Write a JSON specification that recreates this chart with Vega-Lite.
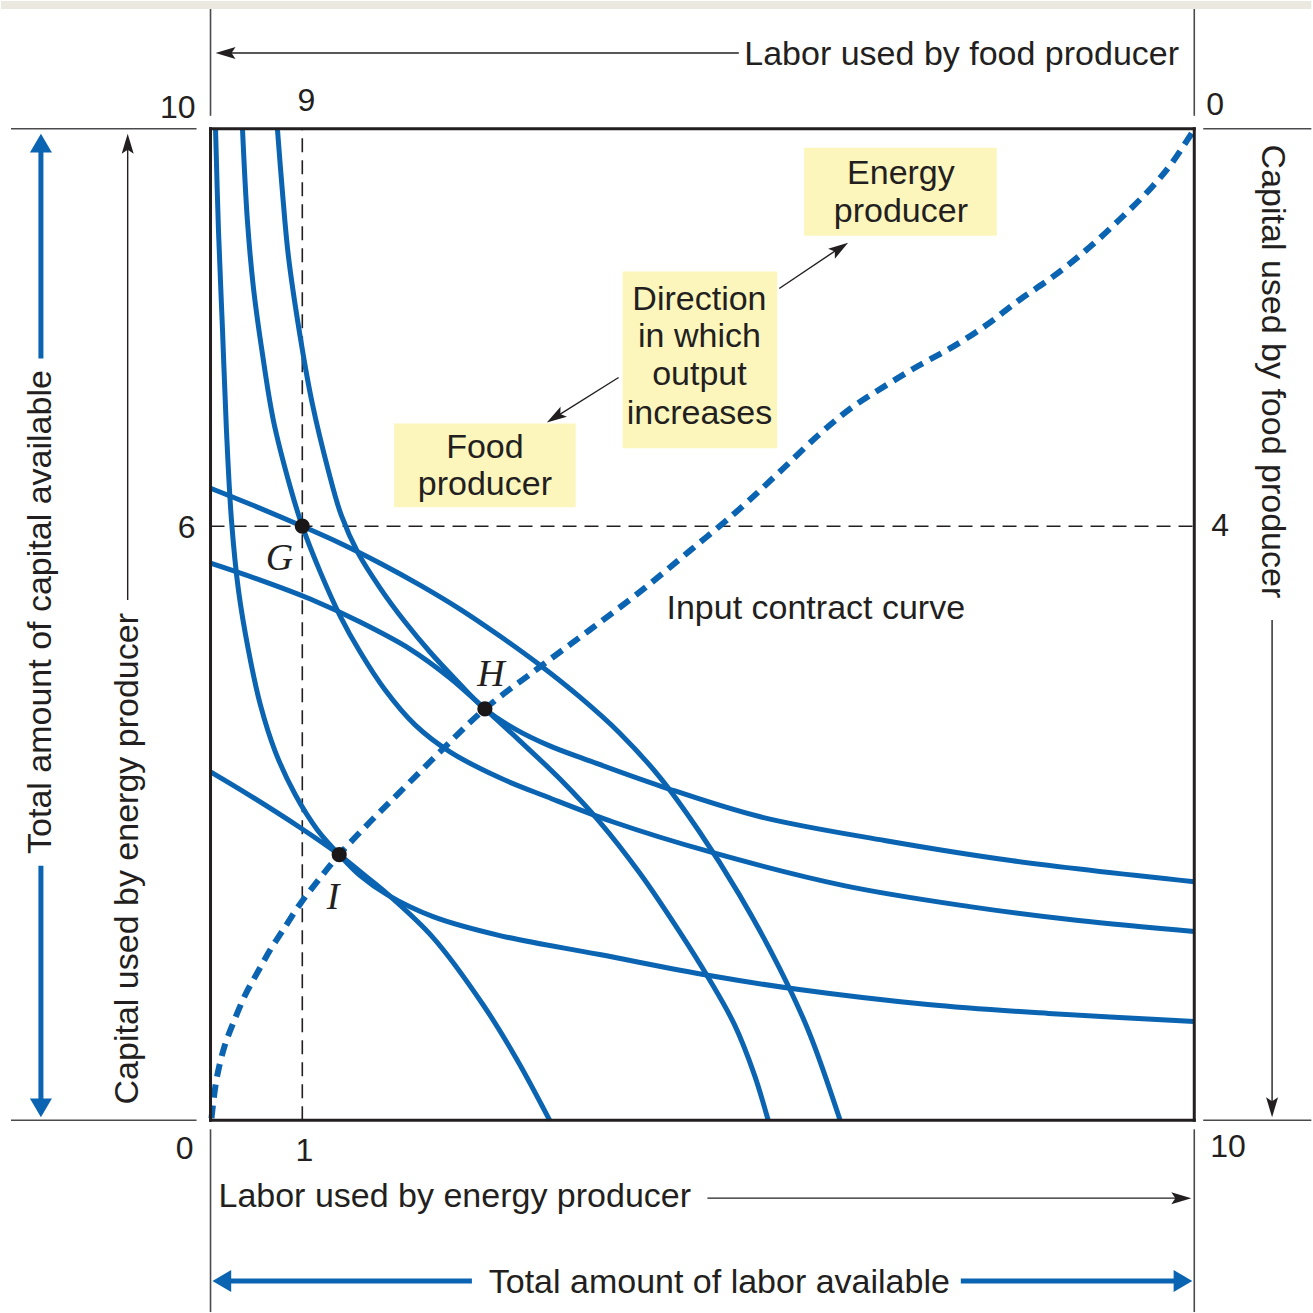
{
  "$schema": "https://vega.github.io/schema/vega-lite/v6.json",
  "width": 1313,
  "height": 1313,
  "autosize": {"type": "fit", "contains": "padding"},
  "padding": 0,
  "background": "white",
  "config": {"view": {"stroke": null}},
  "datasets": {
    "strip": [{"x": -2.13, "x2": 11.19, "y": 11.208, "y2": 11.29}],
    "boxes": [
      {"x": 6.034, "x2": 7.992, "y": 9.809, "y2": 8.922},
      {"x": 4.189, "x2": 5.761, "y": 8.56, "y2": 6.777},
      {"x": 1.866, "x2": 3.712, "y": 7.029, "y2": 6.183}
    ],
    "guides": [
      {"x": 0.933, "y": 0, "x2": 0.933, "y2": 10},
      {"x": 0, "y": 5.992, "x2": 10, "y2": 5.992}
    ],
    "iso": [
      {"c": "E1", "o": 1, "x": 0.051, "y": 10.0},
      {"c": "E1", "o": 2, "x": 0.081, "y": 8.973},
      {"c": "E1", "o": 3, "x": 0.122, "y": 7.966},
      {"c": "E1", "o": 4, "x": 0.162, "y": 6.959},
      {"c": "E1", "o": 5, "x": 0.213, "y": 6.052},
      {"c": "E1", "o": 6, "x": 0.284, "y": 5.347},
      {"c": "E1", "o": 7, "x": 0.385, "y": 4.743},
      {"c": "E1", "o": 8, "x": 0.507, "y": 4.189},
      {"c": "E1", "o": 9, "x": 0.659, "y": 3.716},
      {"c": "E1", "o": 10, "x": 0.862, "y": 3.283},
      {"c": "E1", "o": 11, "x": 1.085, "y": 2.931},
      {"c": "E1", "o": 12, "x": 1.308, "y": 2.679},
      {"c": "E1", "o": 13, "x": 1.521, "y": 2.467},
      {"c": "E1", "o": 14, "x": 1.795, "y": 2.276},
      {"c": "E1", "o": 15, "x": 2.262, "y": 2.054},
      {"c": "E1", "o": 16, "x": 2.941, "y": 1.863},
      {"c": "E1", "o": 17, "x": 3.955, "y": 1.672},
      {"c": "E1", "o": 18, "x": 5.071, "y": 1.46},
      {"c": "E1", "o": 19, "x": 5.984, "y": 1.319},
      {"c": "E1", "o": 20, "x": 7.292, "y": 1.168},
      {"c": "E1", "o": 21, "x": 8.519, "y": 1.078},
      {"c": "E1", "o": 22, "x": 10.0, "y": 0.997},
      {"c": "E2", "o": 1, "x": 0.325, "y": 10.0},
      {"c": "E2", "o": 2, "x": 0.375, "y": 9.074},
      {"c": "E2", "o": 3, "x": 0.436, "y": 8.399},
      {"c": "E2", "o": 4, "x": 0.527, "y": 7.734},
      {"c": "E2", "o": 5, "x": 0.639, "y": 7.059},
      {"c": "E2", "o": 6, "x": 0.811, "y": 6.385},
      {"c": "E2", "o": 7, "x": 0.933, "y": 5.992},
      {"c": "E2", "o": 8, "x": 1.116, "y": 5.529},
      {"c": "E2", "o": 9, "x": 1.318, "y": 5.086},
      {"c": "E2", "o": 10, "x": 1.521, "y": 4.723},
      {"c": "E2", "o": 11, "x": 1.775, "y": 4.34},
      {"c": "E2", "o": 12, "x": 2.079, "y": 3.988},
      {"c": "E2", "o": 13, "x": 2.434, "y": 3.716},
      {"c": "E2", "o": 14, "x": 2.941, "y": 3.454},
      {"c": "E2", "o": 15, "x": 3.418, "y": 3.263},
      {"c": "E2", "o": 16, "x": 4.087, "y": 3.011},
      {"c": "E2", "o": 17, "x": 5.071, "y": 2.709},
      {"c": "E2", "o": 18, "x": 6.44, "y": 2.367},
      {"c": "E2", "o": 19, "x": 7.718, "y": 2.155},
      {"c": "E2", "o": 20, "x": 8.824, "y": 2.014},
      {"c": "E2", "o": 21, "x": 10.0, "y": 1.903},
      {"c": "E3", "o": 1, "x": 0.68, "y": 10.0},
      {"c": "E3", "o": 2, "x": 0.73, "y": 9.376},
      {"c": "E3", "o": 3, "x": 0.791, "y": 8.721},
      {"c": "E3", "o": 4, "x": 0.913, "y": 7.895},
      {"c": "E3", "o": 5, "x": 1.034, "y": 7.231},
      {"c": "E3", "o": 6, "x": 1.197, "y": 6.556},
      {"c": "E3", "o": 7, "x": 1.329, "y": 6.103},
      {"c": "E3", "o": 8, "x": 1.501, "y": 5.72},
      {"c": "E3", "o": 9, "x": 1.724, "y": 5.368},
      {"c": "E3", "o": 10, "x": 1.978, "y": 5.025},
      {"c": "E3", "o": 11, "x": 2.231, "y": 4.723},
      {"c": "E3", "o": 12, "x": 2.505, "y": 4.431},
      {"c": "E3", "o": 13, "x": 2.789, "y": 4.149},
      {"c": "E3", "o": 14, "x": 3.093, "y": 3.948},
      {"c": "E3", "o": 15, "x": 3.448, "y": 3.776},
      {"c": "E3", "o": 16, "x": 3.854, "y": 3.625},
      {"c": "E3", "o": 17, "x": 4.594, "y": 3.364},
      {"c": "E3", "o": 18, "x": 5.588, "y": 3.061},
      {"c": "E3", "o": 19, "x": 6.866, "y": 2.82},
      {"c": "E3", "o": 20, "x": 8.154, "y": 2.618},
      {"c": "E3", "o": 21, "x": 10.0, "y": 2.407},
      {"c": "F1", "o": 1, "x": 0, "y": 3.515},
      {"c": "F1", "o": 2, "x": 0.406, "y": 3.273},
      {"c": "F1", "o": 3, "x": 0.913, "y": 2.951},
      {"c": "F1", "o": 4, "x": 1.308, "y": 2.679},
      {"c": "F1", "o": 5, "x": 1.572, "y": 2.467},
      {"c": "F1", "o": 6, "x": 1.795, "y": 2.286},
      {"c": "F1", "o": 7, "x": 2.262, "y": 1.843},
      {"c": "F1", "o": 8, "x": 2.769, "y": 1.168},
      {"c": "F1", "o": 9, "x": 3.114, "y": 0.614},
      {"c": "F1", "o": 10, "x": 3.448, "y": 0},
      {"c": "F2", "o": 1, "x": 0, "y": 5.619},
      {"c": "F2", "o": 2, "x": 0.507, "y": 5.448},
      {"c": "F2", "o": 3, "x": 1.014, "y": 5.257},
      {"c": "F2", "o": 4, "x": 1.521, "y": 5.025},
      {"c": "F2", "o": 5, "x": 2.028, "y": 4.753},
      {"c": "F2", "o": 6, "x": 2.434, "y": 4.461},
      {"c": "F2", "o": 7, "x": 2.789, "y": 4.149},
      {"c": "F2", "o": 8, "x": 3.144, "y": 3.827},
      {"c": "F2", "o": 9, "x": 3.55, "y": 3.444},
      {"c": "F2", "o": 10, "x": 3.955, "y": 3.011},
      {"c": "F2", "o": 11, "x": 4.361, "y": 2.497},
      {"c": "F2", "o": 12, "x": 4.767, "y": 1.903},
      {"c": "F2", "o": 13, "x": 5.071, "y": 1.42},
      {"c": "F2", "o": 14, "x": 5.325, "y": 0.967},
      {"c": "F2", "o": 15, "x": 5.527, "y": 0.463},
      {"c": "F2", "o": 16, "x": 5.669, "y": 0},
      {"c": "F3", "o": 1, "x": 0, "y": 6.375},
      {"c": "F3", "o": 2, "x": 0.406, "y": 6.213},
      {"c": "F3", "o": 3, "x": 0.933, "y": 5.992},
      {"c": "F3", "o": 4, "x": 1.318, "y": 5.821},
      {"c": "F3", "o": 5, "x": 1.724, "y": 5.619},
      {"c": "F3", "o": 6, "x": 2.13, "y": 5.398},
      {"c": "F3", "o": 7, "x": 2.535, "y": 5.156},
      {"c": "F3", "o": 8, "x": 2.941, "y": 4.884},
      {"c": "F3", "o": 9, "x": 3.347, "y": 4.592},
      {"c": "F3", "o": 10, "x": 3.753, "y": 4.27},
      {"c": "F3", "o": 11, "x": 4.158, "y": 3.907},
      {"c": "F3", "o": 12, "x": 4.564, "y": 3.464},
      {"c": "F3", "o": 13, "x": 4.97, "y": 2.91},
      {"c": "F3", "o": 14, "x": 5.375, "y": 2.276},
      {"c": "F3", "o": 15, "x": 5.781, "y": 1.541},
      {"c": "F3", "o": 16, "x": 6.085, "y": 0.886},
      {"c": "F3", "o": 17, "x": 6.4, "y": 0}
    ],
    "contract": [
      {"o": 1, "x": 0.01, "y": 0.02},
      {"o": 2, "x": 0.061, "y": 0.413},
      {"o": 3, "x": 0.142, "y": 0.745},
      {"o": 4, "x": 0.233, "y": 0.987},
      {"o": 5, "x": 0.355, "y": 1.269},
      {"o": 6, "x": 0.477, "y": 1.49},
      {"o": 7, "x": 0.609, "y": 1.722},
      {"o": 8, "x": 0.74, "y": 1.923},
      {"o": 9, "x": 0.913, "y": 2.185},
      {"o": 10, "x": 1.116, "y": 2.447},
      {"o": 11, "x": 1.308, "y": 2.679},
      {"o": 12, "x": 1.623, "y": 3.011},
      {"o": 13, "x": 1.927, "y": 3.313},
      {"o": 14, "x": 2.363, "y": 3.746},
      {"o": 15, "x": 2.789, "y": 4.149},
      {"o": 16, "x": 3.347, "y": 4.572},
      {"o": 17, "x": 3.854, "y": 4.945},
      {"o": 18, "x": 4.361, "y": 5.327},
      {"o": 19, "x": 4.868, "y": 5.74},
      {"o": 20, "x": 5.375, "y": 6.163},
      {"o": 21, "x": 5.781, "y": 6.536},
      {"o": 22, "x": 6.187, "y": 6.918},
      {"o": 23, "x": 6.521, "y": 7.19},
      {"o": 24, "x": 6.866, "y": 7.412},
      {"o": 25, "x": 7.201, "y": 7.613},
      {"o": 26, "x": 7.535, "y": 7.795},
      {"o": 27, "x": 7.88, "y": 8.016},
      {"o": 28, "x": 8.215, "y": 8.268},
      {"o": 29, "x": 8.55, "y": 8.499},
      {"o": 30, "x": 8.895, "y": 8.771},
      {"o": 31, "x": 9.229, "y": 9.074},
      {"o": 32, "x": 9.564, "y": 9.406},
      {"o": 33, "x": 9.767, "y": 9.648},
      {"o": 34, "x": 9.99, "y": 9.98}
    ],
    "frame": [
      {"x": 0, "y": 0, "x2": 10, "y2": 0},
      {"x": 0, "y": 10, "x2": 10, "y2": 10},
      {"x": 0, "y": 0, "x2": 0, "y2": 10},
      {"x": 10, "y": 0, "x2": 10, "y2": 10}
    ],
    "ext": [
      {"x": -2.028, "y": 10, "x2": -0.142, "y2": 10},
      {"x": -2.028, "y": 0, "x2": -0.142, "y2": 0},
      {"x": 10.091, "y": 10, "x2": 11.19, "y2": 10},
      {"x": 10.091, "y": 0, "x2": 11.19, "y2": 0},
      {"x": 0, "y": 11.208, "x2": 0, "y2": 10.131},
      {"x": 10, "y": 11.208, "x2": 10, "y2": 10.131},
      {"x": 0, "y": -0.091, "x2": 0, "y2": -1.934},
      {"x": 10, "y": -0.091, "x2": 10, "y2": -1.934}
    ],
    "shafts": [
      {"x": 5.37, "y": 10.765, "x2": 0.1, "y2": 10.765},
      {"x": 5.051, "y": -0.785, "x2": 9.92, "y2": -0.785},
      {"x": -0.842, "y": 5.247, "x2": -0.842, "y2": 9.9},
      {"x": 10.791, "y": 5.045, "x2": 10.791, "y2": 0.08},
      {"x": 5.781, "y": 8.389, "x2": 6.43, "y2": 8.822},
      {"x": 4.148, "y": 7.492, "x2": 3.47, "y2": 7.07}
    ],
    "heads": [
      {"x": 0.051, "y": 10.765, "a": 270},
      {"x": 9.97, "y": -0.785, "a": 90},
      {"x": -0.842, "y": 9.95, "a": 0},
      {"x": 10.791, "y": 0.03, "a": 180},
      {"x": 6.481, "y": 8.852, "a": 56},
      {"x": 3.418, "y": 7.039, "a": 238}
    ],
    "blueShafts": [
      {"x": -1.724, "y": 9.85, "x2": -1.724, "y2": 7.684},
      {"x": -1.724, "y": 2.568, "x2": -1.724, "y2": 0.13},
      {"x": 0.15, "y": -1.621, "x2": 2.657, "y2": -1.621},
      {"x": 7.627, "y": -1.621, "x2": 9.85, "y2": -1.621}
    ],
    "blueHeads": [
      {"x": -1.724, "y": 9.95, "a": 0},
      {"x": -1.724, "y": 0.03, "a": 180},
      {"x": 0.02, "y": -1.621, "a": 270},
      {"x": 9.98, "y": -1.621, "a": 90}
    ],
    "dots": [
      {"x": 0.933, "y": 5.992},
      {"x": 2.789, "y": 4.149},
      {"x": 1.308, "y": 2.679}
    ],
    "txtLeft": [
      {"x": 5.426, "y": 10.644, "label": "Labor used by food producer"},
      {"x": 0.081, "y": -0.876, "label": "Labor used by energy producer"},
      {"x": 4.635, "y": 5.055, "label": "Input contract curve"}
    ],
    "txtCenter": [
      {"x": 5.172, "y": -1.742, "label": "Total amount of labor available"},
      {"x": 7.018, "y": 9.446, "label": "Energy"},
      {"x": 7.018, "y": 9.063, "label": "producer"},
      {"x": 4.97, "y": 8.177, "label": "Direction"},
      {"x": 4.97, "y": 7.795, "label": "in which"},
      {"x": 4.97, "y": 7.412, "label": "output"},
      {"x": 4.97, "y": 7.019, "label": "increases"},
      {"x": 2.789, "y": 6.677, "label": "Food"},
      {"x": 2.789, "y": 6.304, "label": "producer"}
    ],
    "tickRight": [
      {"x": -0.152, "y": 10.111, "label": "10"},
      {"x": -0.152, "y": 5.876, "label": "6"},
      {"x": -0.172, "y": -0.393, "label": "0"}
    ],
    "tickCenter": [
      {"x": 0.974, "y": 10.181, "label": "9"},
      {"x": 0.953, "y": -0.41, "label": "1"}
    ],
    "tickLeft": [
      {"x": 10.122, "y": 10.141, "label": "0"},
      {"x": 10.172, "y": 5.891, "label": "4"},
      {"x": 10.162, "y": -0.373, "label": "10"}
    ],
    "rot270": [
      {"x": -1.724, "y": 5.126, "label": "Total amount of capital available"},
      {"x": -0.842, "y": 2.638, "label": "Capital used by energy producer"}
    ],
    "rot90": [
      {"x": 10.791, "y": 7.553, "label": "Capital used by food producer"}
    ],
    "pointNames": [
      {"x": 0.7, "y": 5.549, "label": "G"},
      {"x": 2.85, "y": 4.381, "label": "H"},
      {"x": 1.247, "y": 2.135, "label": "I"}
    ]
  },
  "encoding": {
    "x": {"field": "x", "type": "quantitative", "scale": {"domain": [-2.1298, 11.1866], "nice": false, "zero": false}, "axis": null},
    "y": {"field": "y", "type": "quantitative", "scale": {"domain": [-1.9335, 11.289], "nice": false, "zero": false}, "axis": null}
  },
  "layer": [
    {
      "data": {"name": "strip"},
      "mark": {"type": "rect", "color": "#ebe9df"},
      "encoding": {"x2": {"field": "x2"}, "y2": {"field": "y2"}}
    },
    {
      "data": {"name": "boxes"},
      "mark": {"type": "rect", "color": "#fcf6bd"},
      "encoding": {"x2": {"field": "x2"}, "y2": {"field": "y2"}}
    },
    {
      "data": {"name": "guides"},
      "mark": {"type": "rule", "color": "#231f20", "strokeWidth": 1.6, "strokeDash": [14, 8]},
      "encoding": {"x2": {"field": "x2"}, "y2": {"field": "y2"}}
    },
    {
      "data": {"name": "iso"},
      "mark": {"type": "line", "color": "#0a64b1", "strokeWidth": 5, "interpolate": "catmull-rom"},
      "encoding": {
        "detail": {"field": "c", "type": "nominal"},
        "order": {"field": "o", "type": "quantitative"}
      }
    },
    {
      "data": {"name": "contract"},
      "mark": {"type": "line", "color": "#0a64b1", "strokeWidth": 6, "strokeDash": [13, 8], "interpolate": "catmull-rom"},
      "encoding": {"order": {"field": "o", "type": "quantitative"}}
    },
    {
      "data": {"name": "frame"},
      "mark": {"type": "rule", "color": "#231f20", "strokeWidth": 3, "strokeCap": "square"},
      "encoding": {"x2": {"field": "x2"}, "y2": {"field": "y2"}}
    },
    {
      "data": {"name": "ext"},
      "mark": {"type": "rule", "color": "#4a4a4c", "strokeWidth": 1.6},
      "encoding": {"x2": {"field": "x2"}, "y2": {"field": "y2"}}
    },
    {
      "data": {"name": "shafts"},
      "mark": {"type": "rule", "color": "#231f20", "strokeWidth": 1.4},
      "encoding": {"x2": {"field": "x2"}, "y2": {"field": "y2"}}
    },
    {
      "data": {"name": "heads"},
      "mark": {"type": "point", "shape": "M0,0L-0.6,2L0,1.6L0.6,2Z", "size": 400, "filled": true, "opacity": 1, "color": "#231f20", "strokeWidth": 0},
      "encoding": {"angle": {"field": "a", "type": "quantitative", "scale": null}}
    },
    {
      "data": {"name": "blueShafts"},
      "mark": {"type": "rule", "color": "#0a64b1", "strokeWidth": 5},
      "encoding": {"x2": {"field": "x2"}, "y2": {"field": "y2"}}
    },
    {
      "data": {"name": "blueHeads"},
      "mark": {"type": "point", "shape": "M0,0L-1,1.7L1,1.7Z", "size": 484, "filled": true, "opacity": 1, "color": "#0a64b1", "strokeWidth": 0},
      "encoding": {"angle": {"field": "a", "type": "quantitative", "scale": null}}
    },
    {
      "data": {"name": "dots"},
      "mark": {"type": "point", "shape": "circle", "size": 230, "filled": true, "opacity": 1, "color": "#1a1718"}
    },
    {
      "data": {"name": "txtLeft"},
      "mark": {"type": "text", "font": "Liberation Sans", "fontSize": 34, "align": "left", "baseline": "alphabetic", "color": "#231f20"},
      "encoding": {"text": {"field": "label"}}
    },
    {
      "data": {"name": "txtCenter"},
      "mark": {"type": "text", "font": "Liberation Sans", "fontSize": 34, "align": "center", "baseline": "alphabetic", "color": "#231f20"},
      "encoding": {"text": {"field": "label"}}
    },
    {
      "data": {"name": "tickRight"},
      "mark": {"type": "text", "font": "Liberation Sans", "fontSize": 32, "align": "right", "baseline": "alphabetic", "color": "#231f20"},
      "encoding": {"text": {"field": "label"}}
    },
    {
      "data": {"name": "tickCenter"},
      "mark": {"type": "text", "font": "Liberation Sans", "fontSize": 32, "align": "center", "baseline": "alphabetic", "color": "#231f20"},
      "encoding": {"text": {"field": "label"}}
    },
    {
      "data": {"name": "tickLeft"},
      "mark": {"type": "text", "font": "Liberation Sans", "fontSize": 32, "align": "left", "baseline": "alphabetic", "color": "#231f20"},
      "encoding": {"text": {"field": "label"}}
    },
    {
      "data": {"name": "rot270"},
      "mark": {"type": "text", "font": "Liberation Sans", "fontSize": 34, "align": "center", "baseline": "middle", "angle": 270, "color": "#231f20"},
      "encoding": {"text": {"field": "label"}}
    },
    {
      "data": {"name": "rot90"},
      "mark": {"type": "text", "font": "Liberation Sans", "fontSize": 34, "align": "center", "baseline": "middle", "angle": 90, "color": "#231f20"},
      "encoding": {"text": {"field": "label"}}
    },
    {
      "data": {"name": "pointNames"},
      "mark": {"type": "text", "font": "Liberation Serif", "fontStyle": "italic", "fontSize": 38, "align": "center", "baseline": "alphabetic", "color": "#231f20"},
      "encoding": {"text": {"field": "label"}}
    }
  ]
}
